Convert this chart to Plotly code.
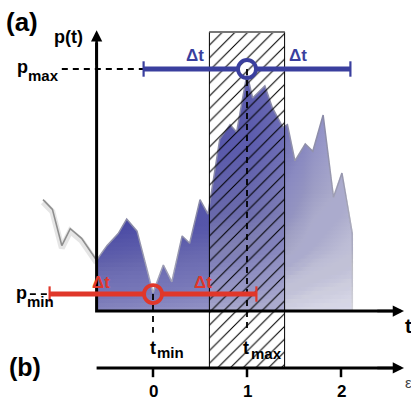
import numpy as np
import plotly.graph_objects as go

# ---------------- data ----------------
t_curve = [-1.17, -1.07, -0.97, -0.88, -0.76, -0.60,
           -0.49, -0.37, -0.28, -0.17, -0.06, 0.00, 0.11, 0.20, 0.31, 0.39,
           0.50, 0.585, 0.71, 0.82, 0.89, 1.00, 1.06, 1.19, 1.27, 1.38, 1.43,
           1.51, 1.62, 1.70, 1.81, 1.92, 2.01, 2.12, 2.12]
p_curve = [0.46, 0.42, 0.27, 0.34, 0.30, 0.21,
           0.27, 0.32, 0.38, 0.33, 0.16, 0.075, 0.19, 0.12, 0.31, 0.28,
           0.46, 0.40, 0.71, 0.77, 0.74, 0.98, 0.88, 0.93, 0.84, 0.76, 0.77,
           0.62, 0.69, 0.66, 0.81, 0.47, 0.57, 0.32, 0.0]

T_MIN, T_MAX = 0.0, 1.0
P_MIN, P_MAX = 0.07, 1.0
DELTA_T = 1.1
WINDOW_HALF = 0.4
eps_ticks = [0, 1, 2]
eps_tick_labels = ["0", "1", "2"]

# ---------------- geometry / style ----------------
W, H = 411, 401
X0_PX, X_SCALE = 153, 94      # pixel of eps=0, px per unit
Y0_PX, Y_SCALE = 311, 242     # pixel of p=0, px per unit
x_range = [(0 - X0_PX) / X_SCALE, (W - X0_PX) / X_SCALE]
y_range = [(Y0_PX - H) / Y_SCALE, Y0_PX / Y_SCALE]

T_AXIS = -0.60     # position of the p axis
T_END = 2.67       # arrow tips of horizontal axes
P_TOP = 1.16       # arrow tip of p axis
P_LOWER = -0.2355  # lower (b) axis
P_HATCH_TOP = 1.153
CIRCLE_GAP = 0.09
BLUE = "#3a3f9e"
RED = "#e0372a"
FONT = "Liberation Sans, Arial, sans-serif"

fig = go.Figure()

out_t = [t for t in t_curve if t <= T_AXIS]
out_p = [p for t, p in zip(t_curve, p_curve) if t <= T_AXIS]
in_t = [t for t in t_curve if t >= T_AXIS]
in_p = [p for t, p in zip(t_curve, p_curve) if t >= T_AXIS]

# grey line with soft shadow (outside the axes)
fig.add_trace(go.Scatter(x=out_t, y=[p - 0.01 for p in out_p], mode="lines",
                         line=dict(color="rgba(0,0,0,0.10)", width=6)))
fig.add_trace(go.Scatter(x=out_t, y=out_p, mode="lines",
                         line=dict(color="#8e8e8e", width=1.6)))

# gradient-filled area
fig.add_trace(go.Scatter(
    x=in_t, y=in_p, mode="lines", fill="tozeroy",
    line=dict(color="#8a8aa8", width=1.5),
    fillgradient=dict(type="horizontal", start=T_AXIS, stop=in_t[-1],
                      colorscale=[[0.0, "#4646a2"], [0.6, "#5c5cad"],
                                  [0.72, "#6b6bb5"], [0.85, "#8c8cc5"],
                                  [1.0, "#a2a2d0"]])))

# soft white wash towards the bottom (invisible on the white background),
# built from stacked translucent white bands
wl, wr = T_MAX - WINDOW_HALF, T_MAX + WINDOW_HALF
wash_zones = [
    (T_AXIS, wl, [0.0, 0.2, 0.35, 0.5, 1.0], [0.42, 0.20, 0.05, 0.0, 0.0]),
    (wl, wr, [0.0, 0.15, 0.4, 0.7, 1.0], [0.60, 0.45, 0.20, 0.05, 0.0]),
    (wr, in_t[-1] + 0.05, [0.0, 0.25, 0.5, 0.8, 1.0], [0.82, 0.48, 0.27, 0.06, 0.0]),
]
N_BANDS = 60
for x_a, x_b, prof_p, prof_a in wash_zones:
    tops = [(k + 1) / N_BANDS for k in range(N_BANDS)]
    mids = [(k + 0.5) / N_BANDS for k in range(N_BANDS)]
    A = [float(np.interp(m, prof_p, prof_a)) for m in mids] + [0.0]
    for k in range(N_BANDS):
        alpha = 1 - (1 - A[k]) / (1 - A[k + 1])
        if alpha <= 0.0005:
            continue
        h = tops[k]
        fig.add_trace(go.Scatter(
            x=[x_a, x_b, x_b, x_a, x_a], y=[0, 0, h, h, 0], mode="none",
            fill="toself", fillcolor=f"rgba(255,255,255,{alpha:.4f})"))

# hatched window
fig.add_trace(go.Scatter(
    x=[wl, wr, wr, wl, wl], y=[P_LOWER, P_LOWER, P_HATCH_TOP, P_HATCH_TOP, P_LOWER],
    mode="lines", fill="toself", fillcolor="rgba(0,0,0,0)",
    fillpattern=dict(shape="/", fgcolor="black", fgopacity=1, size=9,
                     solidity=0.12, fillmode="overlay"),
    line=dict(color="black", width=1)))
fig.add_trace(go.Scatter(x=[wl, wr], y=[P_HATCH_TOP, P_HATCH_TOP], mode="lines",
                         line=dict(color="#777777", width=2)))

# dashed guide lines
dash = dict(color="black", width=1.8, dash="6px,5px")
fig.add_trace(go.Scatter(x=[-0.97, T_MAX - DELTA_T], y=[P_MAX, P_MAX], mode="lines", line=dash))
fig.add_trace(go.Scatter(x=[-1.31, T_MIN - DELTA_T], y=[P_MIN, P_MIN], mode="lines", line=dash))
fig.add_trace(go.Scatter(x=[T_MIN, T_MIN], y=[P_MIN, -0.09], mode="lines", line=dash))
fig.add_trace(go.Scatter(x=[T_MAX, T_MAX], y=[P_MAX, -0.09], mode="lines", line=dash))

# axes
ax_line = dict(color="black", width=3)
fig.add_trace(go.Scatter(x=[T_AXIS, T_AXIS, T_END - 0.1], y=[P_TOP - 0.05, 0, 0],
                         mode="lines", line=ax_line))
fig.add_trace(go.Scatter(x=[T_AXIS, T_END - 0.1], y=[P_LOWER, P_LOWER],
                         mode="lines", line=ax_line))
tick_x, tick_y = [], []
for e in eps_ticks:
    tick_x += [e, e, None]
    tick_y += [P_LOWER, P_LOWER - 0.038, None]
fig.add_trace(go.Scatter(x=tick_x, y=tick_y, mode="lines",
                         line=dict(color="black", width=2.5)))

# Delta-t bars
def bar(tc, pc, color):
    fig.add_trace(go.Scatter(
        x=[tc - DELTA_T, tc - CIRCLE_GAP, None, tc + CIRCLE_GAP, tc + DELTA_T],
        y=[pc, pc, None, pc, pc], mode="lines", line=dict(color=color, width=5)))
    fig.add_trace(go.Scatter(
        x=[tc - DELTA_T, tc + DELTA_T], y=[pc, pc], mode="markers",
        marker=dict(symbol="line-ns", size=11, color=color,
                    line=dict(color=color, width=2.2))))
    fig.add_trace(go.Scatter(
        x=[tc], y=[pc], mode="markers",
        marker=dict(symbol="circle-open", size=18, color=color,
                    line=dict(color=color, width=3.8))))

bar(T_MAX, P_MAX, BLUE)
bar(T_MIN, P_MIN, RED)

# arrowheads
arrows = [
    dict(x=T_AXIS, y=P_TOP, ax=T_AXIS, ay=P_TOP - 0.15),
    dict(x=T_END, y=0, ax=T_END - 0.3, ay=0),
    dict(x=T_END, y=P_LOWER, ax=T_END - 0.3, ay=P_LOWER),
]
annotations = []
for a in arrows:
    annotations.append(dict(xref="x", yref="y", axref="x", ayref="y", text="",
                            showarrow=True, arrowhead=2, arrowsize=0.9,
                            arrowwidth=2.5, arrowcolor="black", **a))

def lab(text, px, py, size, color="black", bold=True, xanchor="center"):
    annotations.append(dict(
        xref="paper", yref="paper", x=px / W, y=1 - py / H,
        text=f"<b>{text}</b>" if bold else text, showarrow=False,
        xanchor=xanchor, yanchor="middle",
        font=dict(family=FONT, size=size, color=color)))

lab("(a)", 22, 22, 26)
lab("p(t)", 68, 37, 18)
lab("p", 22, 67, 18)
lab("max", 43, 75, 15)
lab("p", 21, 293, 18)
lab("min", 40, 301, 15)
lab("Δt", 195, 56, 17, BLUE)
lab("Δt", 298, 56, 17, BLUE)
lab("Δt", 101, 282, 17, RED)
lab("Δt", 203, 282, 17, RED)
lab("t", 403, 326, 20, xanchor="left")
lab("t", 153, 348, 18)
lab("min", 170, 352, 15)
lab("t", 246, 348, 18)
lab("max", 266, 353, 15)
lab("(b)", 25, 367, 25)
for e, s in zip(eps_ticks, eps_tick_labels):
    lab(s, X0_PX + X_SCALE * e, 391, 17)
lab("ε", 403, 382, 15, "#444444", bold=False, xanchor="left")

fig.update_layout(
    width=W, height=H, autosize=False,
    margin=dict(l=0, r=0, t=0, b=0, pad=0),
    paper_bgcolor="white", plot_bgcolor="white",
    showlegend=False,
    xaxis=dict(range=x_range, visible=False, fixedrange=True),
    yaxis=dict(range=y_range, visible=False, fixedrange=True),
    annotations=annotations,
    hovermode=False,
)

fig.write_html("out.html", config={"displayModeBar": False},
               post_script="document.body.style.margin='0';document.body.style.padding='0';")
